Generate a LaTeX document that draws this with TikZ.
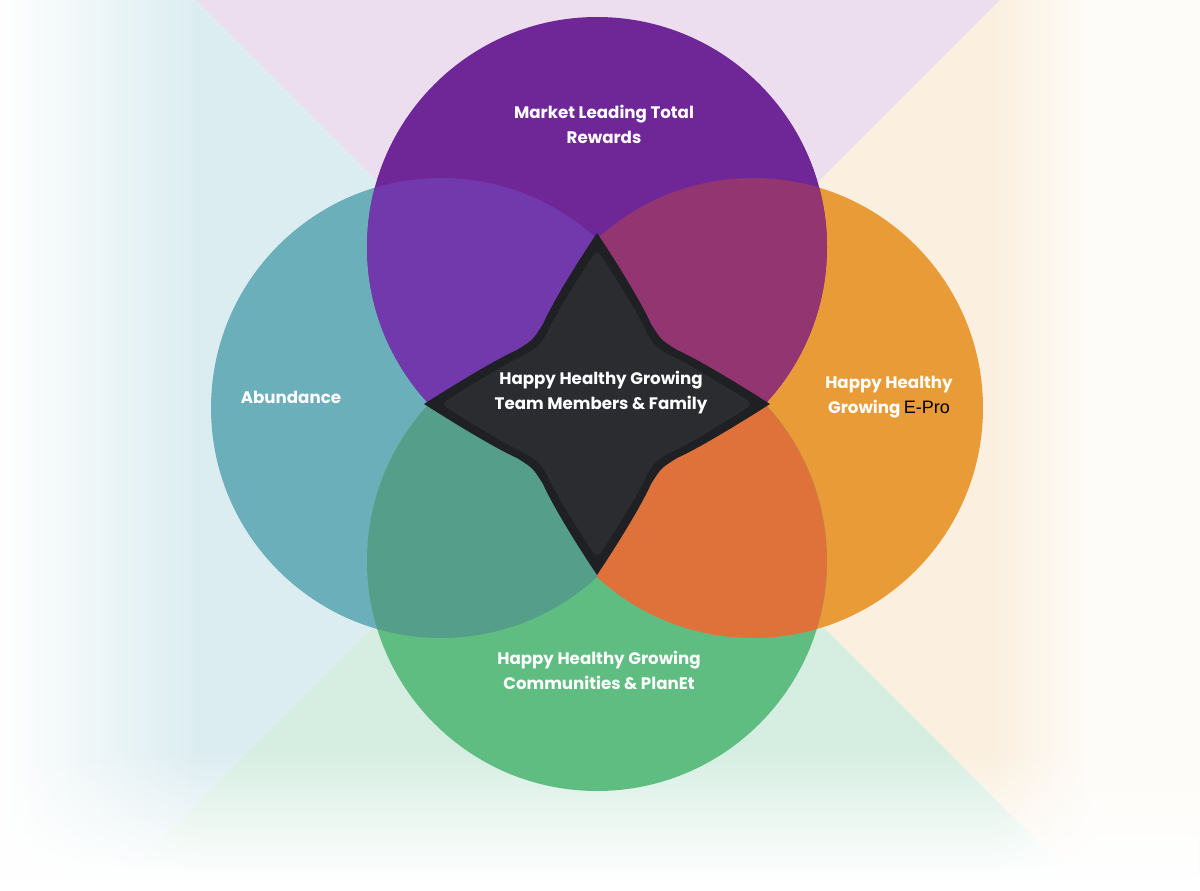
\documentclass[tikz,border=0pt]{standalone}
\usepackage{fontspec}
\newfontfamily\popfont{Poppins}
\newfontfamily\arialfont{Liberation Sans}
\usepackage{tikz}
\usetikzlibrary{fadings}

\definecolor{tintT}{HTML}{ECDDEF}
\definecolor{tintL}{HTML}{DCEDF1}
\definecolor{tintR}{HTML}{FBF0DF}
\definecolor{tintB}{HTML}{D6EEE2}
\definecolor{rewardsC}{HTML}{6F2797}
\definecolor{abundC}{HTML}{6AAFB9}
\definecolor{eproC}{HTML}{E89B36}
\definecolor{planetC}{HTML}{5FBD81}
\definecolor{rewAbC}{HTML}{7139AB}
\definecolor{rewEpC}{HTML}{933570}
\definecolor{abPlC}{HTML}{559E89}
\definecolor{epPlC}{HTML}{DF713A}
\definecolor{starOut}{HTML}{1F2023}
\definecolor{starIn}{HTML}{2A2C2F}

% four pointed star, centred at the origin
\newcommand{\starpath}{(0,-171)
  .. controls (26,-132) and (46,-98) .. (54,-80) .. controls (64,-64) .. (80,-54)
  .. controls (98,-46) and (132,-26) .. (173,0)
  .. controls (132,26) and (98,46) .. (80,54) .. controls (64,64) .. (54,80)
  .. controls (46,98) and (26,132) .. (0,171)
  .. controls (-26,132) and (-46,98) .. (-54,80) .. controls (-64,64) .. (-80,54)
  .. controls (-98,46) and (-132,26) .. (-173,0)
  .. controls (-132,-26) and (-98,-46) .. (-80,-54) .. controls (-64,-64) .. (-54,-80)
  .. controls (-46,-98) and (-26,-132) .. cycle}
\newcommand{\rad}{230}

\tikzset{
  label text/.style = {text = white, align = center,
    font = \popfont\bfseries\fontsize{12.5}{18.75}\selectfont},
}

\begin{document}
\begin{tikzpicture}[x=0.75pt, y=-0.75pt]
        \useasboundingbox (0,0) rectangle (1200,891);

        % background
        \fill[white] (0,0) rectangle (1200,891);
        \fill[tintT] (196,0) -- (1000,0) -- (598,402) -- cycle;
        \fill[tintL] (0,0) -- (196,0) -- (598,402) -- (109,891) -- (0,891) -- cycle;
        \fill[tintR] (1000,0) -- (1200,0) -- (1200,891) -- (1087,891) -- (598,402) -- cycle;
        \fill[tintB] (109,891) -- (1087,891) -- (598,402) -- cycle;
        \fill[white, path fading = east] (0,0) rectangle (200,891);
        \fill[white, fill opacity = 0.8, path fading = west] (990,0) rectangle (1090,891);
        \fill[white, fill opacity = 0.8] (1090,0) rectangle (1200,891);
        \fill[white, path fading = north] (0,750) rectangle (1200,878);
        \fill[white] (0,878) rectangle (1200,891);

        \coordinate (rewards) at (597,247);
        \coordinate (abund) at (441,408);
        \coordinate (epro) at (753,408);
        \coordinate (planet) at (597,561);

        \fill[abundC] (abund) circle (\rad);
        \fill[eproC] (epro) circle (\rad);
        \fill[rewardsC] (rewards) circle (\rad);
        \fill[planetC] (planet) circle (\rad);

        % overlaps
        \begin{scope}
            \clip (rewards) circle (\rad);
            \begin{scope}
                \clip (0,0) rectangle (597,404);
                \fill[rewAbC] (abund) circle (\rad);
            \end{scope}
            \clip (597,0) rectangle (1200,404);
            \fill[rewEpC] (epro) circle (\rad);
        \end{scope}
        \begin{scope}
            \clip (planet) circle (\rad);
            \begin{scope}
                \clip (0,404) rectangle (597,891);
                \fill[abPlC] (abund) circle (\rad);
            \end{scope}
            \clip (597,404) rectangle (1200,891);
            \fill[epPlC] (epro) circle (\rad);
        \end{scope}

        % star
        \begin{scope}[shift = {(597,404)}]
            \fill[starOut] \starpath;
            \filldraw[starIn, line width = 6pt, line join = round, scale = 0.86] \starpath;
        \end{scope}

        \node[label text] (rewardsT) at (604,124) {Market Leading Total\\Rewards};
        \node[label text] (abundT) at (291,397) {Abundance};
        \node[label text] (teamT) at (601,393) {Happy Healthy Growing\\Team Members \& Family};
        \node[label text] (eproT) at (889,397)
            {Happy Healthy\\Growing\ {\arialfont\mdseries\fontsize{13.5}{18.75}\selectfont\color{black}E-Pro}};
        \node[label text] (planetT) at (599,670) {Happy Healthy Growing\\Communities \& PlanEt};

    \end{tikzpicture}
\end{document}
